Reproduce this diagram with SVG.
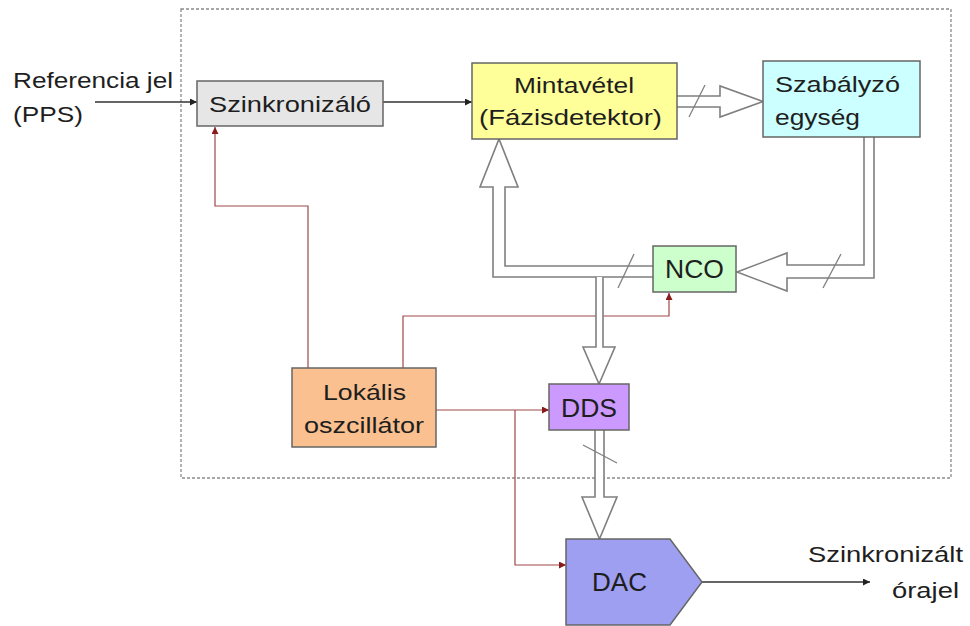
<svg xmlns="http://www.w3.org/2000/svg" width="970" height="626" viewBox="0 0 970 626">
<defs>
<style>
text{font-family:"Liberation Sans",Arial,sans-serif;font-size:22px;fill:#1e1e1e}
text.big{font-size:25px}
.box{stroke:#666;stroke-width:1.5}
.bus{fill:#fff;stroke:#7f7f7f;stroke-width:1.6;stroke-linejoin:miter}
.slash{stroke:#7f7f7f;stroke-width:1.3}
.sig{fill:none;stroke:#333;stroke-width:1.3}
.clk{fill:none;stroke:#a04848;stroke-width:1.2}
</style>
<marker id="ab" viewBox="0 0 10 10" refX="10" refY="5" markerWidth="7" markerHeight="7" markerUnits="userSpaceOnUse" orient="auto"><path d="M0,0 L10,5 L0,10 z" fill="#222"/></marker>
<marker id="ar" viewBox="0 0 10 10" refX="10" refY="5" markerWidth="7" markerHeight="7" markerUnits="userSpaceOnUse" orient="auto"><path d="M0,0 L10,5 L0,10 z" fill="#8b1a1a"/></marker>
</defs>
<rect width="970" height="626" fill="#fff"/>
<rect x="181" y="9" width="770" height="469" fill="none" stroke="#8a8a8a" stroke-width="1.3" stroke-dasharray="3,2"/>

<g id="connectors">
<path class="sig" d="M95,102 H197" marker-end="url(#ab)"/>
<path class="sig" d="M383,102 H472" marker-end="url(#ab)"/>
<path class="sig" d="M702,582 H870" marker-end="url(#ab)"/>
<path class="clk" d="M308,368 V206 H215 V127" marker-end="url(#ar)"/>
<path class="clk" d="M403,368 V316 H669 V293" marker-end="url(#ar)"/>
<path class="clk" d="M436,410 H549" marker-end="url(#ar)"/>
<path class="clk" d="M515,410 V565 H566" marker-end="url(#ar)"/>
<path class="bus" d="M677,96 H720 V86 L763,101.5 L720,117 V107 H677"/>
<path class="bus" d="M864,137 V265 H787 V253 L737,272 L787,291 V278 H874 V137"/>
<path class="bus" d="M653,266 H505 V187 H518 L499,139 L480,187 H493 V277 H653"/>
<path class="bus" d="M596,277 V347 H583 L599,384 L615,347 H603 V277"/>
<path class="bus" d="M595,430 V497 H582 L599.5,539 L617,497 H604 V430"/>
<line class="slash" x1="689" y1="117" x2="705" y2="85"/>
<line class="slash" x1="823" y1="288" x2="841" y2="254"/>
<line class="slash" x1="618" y1="288" x2="634" y2="254"/>
<line class="slash" x1="583" y1="445" x2="617" y2="463"/>
</g>

<g id="ref-label">
<text x="13" y="88" textLength="160" lengthAdjust="spacingAndGlyphs">Referencia jel</text>
<text x="13" y="122" textLength="70" lengthAdjust="spacingAndGlyphs">(PPS)</text>
</g>

<g id="szinkronizalo">
<rect class="box" x="197" y="81" width="186" height="45" fill="#e6e6e6"/>
<text x="209" y="112" textLength="162" lengthAdjust="spacingAndGlyphs">Szinkronizáló</text>
</g>

<g id="mintavetel">
<rect class="box" x="472" y="63" width="205" height="76" fill="#ffff99"/>
<text x="514" y="93" textLength="120" lengthAdjust="spacingAndGlyphs">Mintavétel</text>
<text x="479" y="125" textLength="183" lengthAdjust="spacingAndGlyphs">(Fázisdetektor)</text>
</g>

<g id="szabalyzo">
<rect class="box" x="763" y="61" width="157" height="76" fill="#ccffff"/>
<text x="775" y="92" textLength="125" lengthAdjust="spacingAndGlyphs">Szabályzó</text>
<text x="775" y="125" textLength="85" lengthAdjust="spacingAndGlyphs">egység</text>
</g>

<g id="nco">
<rect class="box" x="653" y="246" width="83" height="46" fill="#ccffcc"/>
<text class="big" x="665" y="278" textLength="59" lengthAdjust="spacingAndGlyphs">NCO</text>
</g>

<g id="lokalis">
<rect class="box" x="292" y="368" width="144" height="79" fill="#fbc08f"/>
<text x="323" y="400" textLength="83" lengthAdjust="spacingAndGlyphs">Lokális</text>
<text x="304" y="433" textLength="120" lengthAdjust="spacingAndGlyphs">oszcillátor</text>
</g>

<g id="dds">
<rect class="box" x="549" y="384" width="80" height="46" fill="#cc99ff"/>
<text class="big" x="561" y="417" textLength="56" lengthAdjust="spacingAndGlyphs">DDS</text>
</g>

<g id="dac">
<path class="box" d="M566,539 H670 L702,582 L670,625 H566 Z" fill="#9f9ff2"/>
<text class="big" x="592" y="591" textLength="55" lengthAdjust="spacingAndGlyphs">DAC</text>
</g>

<g id="out-label">
<text x="808" y="562" textLength="155" lengthAdjust="spacingAndGlyphs">Szinkronizált</text>
<text x="892" y="598" textLength="67" lengthAdjust="spacingAndGlyphs">órajel</text>
</g>
</svg>
